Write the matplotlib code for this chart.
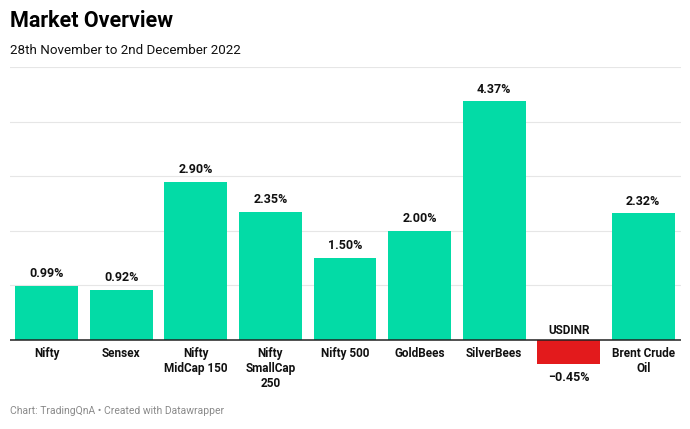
import matplotlib.pyplot as plt

plt.rcParams['font.family'] = ['Roboto', 'DejaVu Sans']

# data
categories = ['Nifty', 'Sensex', 'Nifty\nMidCap 150', 'Nifty\nSmallCap\n250', 'Nifty 500',
              'GoldBees', 'SilverBees', 'USDINR', 'Brent Crude\nOil']
values = [0.99, 0.92, 2.90, 2.35, 1.50, 2.00, 4.37, -0.45, 2.32]
value_labels = ['0.99%', '0.92%', '2.90%', '2.35%', '1.50%', '2.00%', '4.37%', '\u22120.45%', '2.32%']

green = '#03DBA6'
red = '#E31A1C'

fig = plt.figure(figsize=(6.9, 4.29), dpi=100)
ax = fig.add_axes([9.5 / 690, (429 - 394.5) / 429, 671 / 690, 327.5 / 429])

x = list(range(len(categories)))
colors = [green if v >= 0 else red for v in values]
ax.bar(x, values, width=0.845, color=colors, zorder=2)

ax.set_xlim(-0.5, len(categories) - 0.5)
ax.set_ylim(-1, 5)
for g in [1, 2, 3, 4, 5]:
    ax.axhline(g, color='#e6e6e6', lw=0.8, zorder=1)
ax.axhline(0, color='#222222', lw=1.1, zorder=3)

for xi, v, cat, lab in zip(x, values, categories, value_labels):
    if v >= 0:
        ax.annotate(lab, (xi, v), xytext=(0, 4), textcoords='offset points',
                    ha='center', va='bottom', fontsize=9, fontweight='bold', color='#111111')
        ax.annotate(cat, (xi, 0), xytext=(0, -5), textcoords='offset points',
                    ha='center', va='top', fontsize=8.5, fontweight='bold', color='#111111',
                    linespacing=1.22)
    else:
        ax.annotate(lab, (xi, v), xytext=(0, -5), textcoords='offset points',
                    ha='center', va='top', fontsize=9, fontweight='bold', color='#111111')
        ax.annotate(cat, (xi, 0), xytext=(0, 2), textcoords='offset points',
                    ha='center', va='bottom', fontsize=8.5, fontweight='bold', color='#111111')

ax.axis('off')

fig.text(10 / 690, 1 - 21 / 429, 'Market Overview', fontsize=15.5, fontweight='bold',
         va='center', ha='left', color='#000000')
fig.text(10 / 690, 1 - 50 / 429, '28th November to 2nd December 2022', fontsize=9.6,
         va='center', ha='left', color='#111111')
fig.text(10 / 690, 1 - 411 / 429, 'Chart: TradingQnA \u2022 Created with Datawrapper', fontsize=7.5,
         va='center', ha='left', color='#8a8a8a')

fig.savefig('out.png', dpi=100)
